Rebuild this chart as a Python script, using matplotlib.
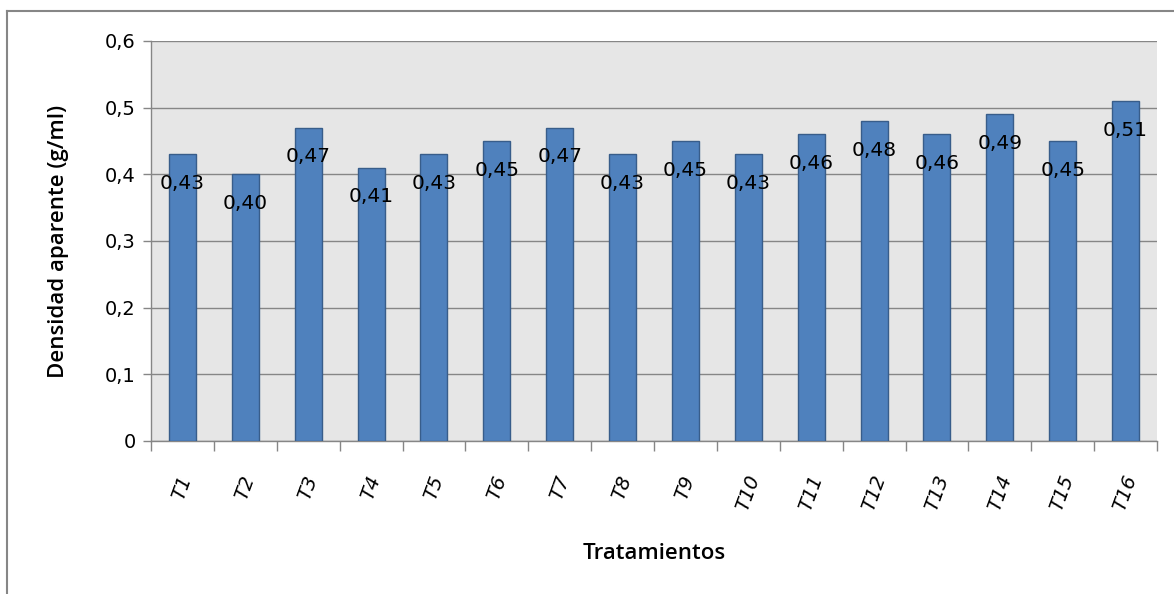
import matplotlib.pyplot as plt
import numpy as np
from matplotlib.lines import Line2D

tratamientos = [f"T{i}" for i in range(1, 17)]
densidad = [0.43, 0.40, 0.47, 0.41, 0.43, 0.45, 0.47, 0.43,
            0.45, 0.43, 0.46, 0.48, 0.46, 0.49, 0.45, 0.51]
y_ticks = [0, 0.1, 0.2, 0.3, 0.4, 0.5, 0.6]
y_tick_labels = ["0", "0,1", "0,2", "0,3", "0,4", "0,5", "0,6"]

plt.rcParams['font.family'] = ['DejaVu Sans']

W, H = 1174, 594
fig = plt.figure(figsize=(W / 100, H / 100), dpi=100)
ax = fig.add_axes([151 / W, 1 - 441 / H, (1157 - 151) / W, (441 - 41) / H])

grey = "#868686"
ax.set_facecolor("#e6e6e6")

x = np.arange(len(tratamientos))
ax.bar(x, densidad, width=0.43, color="#4f81bd", edgecolor="#385d8a",
       linewidth=1, zorder=3)

for xi, v in zip(x, densidad):
    ax.annotate(f"{v:.2f}".replace(".", ","), (xi, v), xytext=(0, -21),
                textcoords="offset points", ha="center", va="center",
                fontsize=14.5, zorder=4)

ax.set_xlim(-0.5, len(tratamientos) - 0.5)
ax.set_ylim(0, 0.6)
ax.set_yticks(y_ticks)
ax.set_yticklabels(y_tick_labels, fontsize=14)
ax.yaxis.grid(True, color=grey, linewidth=1, zorder=0)
ax.set_axisbelow(True)

# category labels sit between boundary ticks
ax.set_xticks(x)
ax.set_xticklabels(tratamientos, fontsize=14, style="italic", rotation=70,
                   ha="center", va="top")
ax.tick_params(axis="x", which="major", length=0, pad=23)
ax.set_xticks(np.arange(-0.5, len(tratamientos)), minor=True)
ax.tick_params(axis="x", which="minor", length=7, color=grey, width=1)
ax.tick_params(axis="y", length=6, color=grey, width=1, pad=5)

for side in ["top", "right"]:
    ax.spines[side].set_visible(False)
for side in ["left", "bottom"]:
    ax.spines[side].set_color(grey)
    ax.spines[side].set_linewidth(1)

title_font = dict(family=["Open Sans", "DejaVu Sans"], fontsize=16,
                  fontweight="semibold")
ax.set_ylabel("Densidad aparente (g/ml)", labelpad=26, **title_font)
ax.set_xlabel("Tratamientos", labelpad=21, **title_font)

# outer chart frame
fig.add_artist(Line2D([7 / W, 1], [1 - 11 / H, 1 - 11 / H], color=grey,
                      linewidth=1.5, transform=fig.transFigure))
fig.add_artist(Line2D([7 / W, 7 / W], [0, 1 - 11 / H], color=grey,
                      linewidth=1.5, transform=fig.transFigure))

fig.savefig("out.png", dpi=100)
